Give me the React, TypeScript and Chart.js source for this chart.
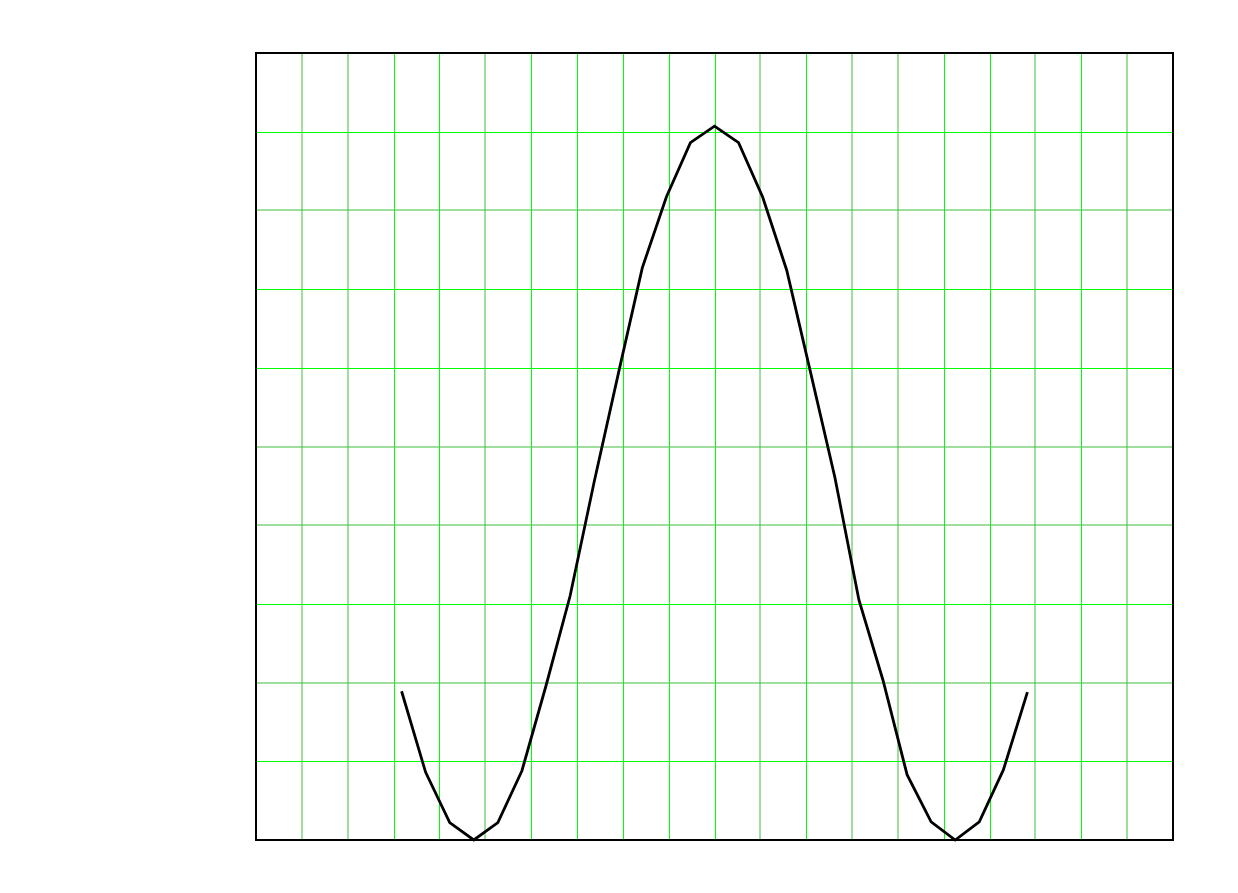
import React, { useEffect, useRef } from "react";
import { Chart, registerables } from "chart.js";

Chart.register(...registerables);

const xValues = [
  3.175, 3.7, 4.225, 4.75, 5.275, 5.8, 6.325, 6.85, 7.375, 7.9, 8.425, 8.95, 9.475, 10,
  10.525, 11.05, 11.575, 12.1, 12.625, 13.15, 13.675, 14.2, 14.725, 15.25, 15.775, 16.3, 16.825,
];
const yValues = [
  1.89, 0.86, 0.22, 0, 0.22, 0.88, 1.96, 3.1, 4.55, 5.92, 7.27, 8.17, 8.86, 9.07,
  8.86, 8.17, 7.24, 5.93, 4.61, 3.05, 2.03, 0.83, 0.23, 0, 0.23, 0.89, 1.88,
];
const xMin = 0;
const xMax = 20;
const yMin = 0;
const yMax = 10;
// grid line look per tick index: B = crisp bright green, F = soft (resampled) green
const xGridStyle = "-FFBBFBBBBBFBFFBBFBF-";
const yGridStyle = "-BFBFFBBFB-";

const BRIGHT = "rgb(0,255,0)";
const SOFT = "rgb(60,190,60)";

export default function App() {
  const ref = useRef<HTMLCanvasElement | null>(null);
  useEffect(() => {
    if (!ref.current) return;
    const gridAndFrame = {
      id: "gridAndFrame",
      beforeDatasetsDraw(chart: any) {
        const { ctx, chartArea: a, scales } = chart;
        ctx.save();
        const place = (p: number, s: string) => (s === "B" ? Math.round(p) + 0.5 : Math.round(p));
        scales.x.ticks.forEach((t: any, i: number) => {
          const s = xGridStyle[i];
          if (s !== "B" && s !== "F") return;
          const px = place(scales.x.getPixelForValue(t.value), s);
          ctx.beginPath();
          ctx.strokeStyle = s === "B" ? BRIGHT : SOFT;
          ctx.lineWidth = 1;
          ctx.moveTo(px, a.top);
          ctx.lineTo(px, a.bottom);
          ctx.stroke();
        });
        scales.y.ticks.forEach((t: any, i: number) => {
          const s = yGridStyle[i];
          if (s !== "B" && s !== "F") return;
          const py = place(scales.y.getPixelForValue(t.value), s);
          ctx.beginPath();
          ctx.strokeStyle = s === "B" ? BRIGHT : SOFT;
          ctx.lineWidth = 1;
          ctx.moveTo(a.left, py);
          ctx.lineTo(a.right, py);
          ctx.stroke();
        });
        ctx.strokeStyle = "#000";
        ctx.lineWidth = 2;
        ctx.strokeRect(a.left, a.top, a.right - a.left, a.bottom - a.top);
        ctx.restore();
      },
    };
    const chart = new Chart(ref.current, {
      type: "line",
      data: {
        datasets: [
          {
            data: xValues.map((x, i) => ({ x, y: yValues[i] })),
            borderColor: "#000",
            borderWidth: 2.8,
            pointRadius: 0,
            tension: 0,
            clip: false as any,
          },
        ],
      },
      options: {
        responsive: false,
        animation: false,
        layout: { padding: { left: 256, right: 65, top: 53, bottom: 53 } },
        plugins: { legend: { display: false }, tooltip: { enabled: false } },
        scales: {
          x: {
            type: "linear",
            min: xMin,
            max: xMax,
            ticks: { display: false, stepSize: 1, autoSkip: false },
            grid: { display: false, drawTicks: false },
            border: { display: false },
          },
          y: {
            type: "linear",
            min: yMin,
            max: yMax,
            ticks: { display: false, stepSize: 1, autoSkip: false },
            grid: { display: false, drawTicks: false },
            border: { display: false },
          },
        },
      },
      plugins: [gridAndFrame],
    });
    return () => chart.destroy();
  }, []);
  return (
    <div style={{ position: "fixed", left: 0, top: 0, width: 1238, height: 893, background: "#fff" }}>
      <canvas ref={ref} width={1238} height={893} />
    </div>
  );
}
